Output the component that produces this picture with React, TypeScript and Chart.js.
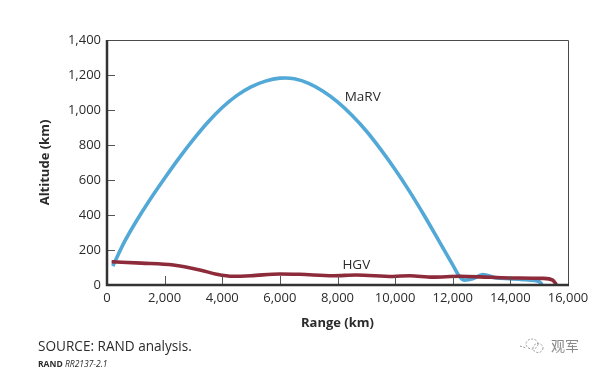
import React, { useEffect, useRef } from "react";
import { Chart, registerables } from "chart.js";

Chart.register(...registerables);

const marvRange = [200, 600, 1000, 1500, 2000, 2500, 3000, 3500, 4000, 4500, 5000, 5500, 6000, 6200, 6500, 7000, 7500, 8000, 8500, 9000, 9500, 10000, 10500, 11000, 11500, 12000, 12230, 12410, 12690, 13040, 13510, 13970, 14500, 15010, 15100];
const marvAltitude = [108, 245, 360, 490, 610, 725, 832, 930, 1014, 1082, 1132, 1165, 1182, 1183, 1178, 1152, 1107, 1046, 970, 880, 775, 660, 535, 400, 258, 115, 50, 28, 35, 60, 40, 36, 30, 18, 2];
const hgvRange = [160, 1200, 2300, 3220, 3800, 4370, 5000, 6000, 6690, 7850, 8650, 9920, 10510, 11300, 12240, 13280, 14080, 15130, 15470, 15600];
const hgvAltitude = [133, 125, 114, 86, 62, 50, 53, 63, 61, 53, 57, 49, 53, 45, 50, 44, 40, 38, 28, 2];
const xTicks = [0, 2000, 4000, 6000, 8000, 10000, 12000, 14000, 16000];
const yTicks = [0, 200, 400, 600, 800, 1000, 1200, 1400];
const notes = [
  { text: "MaRV", x: 8250, y: 1075 },
  { text: "HGV", x: 8170, y: 113 },
];

const FONT = '"Open Sans", "Noto Sans", sans-serif';
const INK = "#2b2b2b";

const frame = {
  id: "frame",
  afterDatasetsDraw(chart: any) {
    const { ctx, chartArea: a, scales } = chart;
    ctx.save();
    ctx.strokeStyle = "#4a4a4a";
    ctx.lineWidth = 1;
    ctx.beginPath();
    ctx.moveTo(a.left, a.top + 0.5);
    ctx.lineTo(a.right + 0.5, a.top + 0.5);
    ctx.lineTo(a.right + 0.5, a.bottom);
    ctx.stroke();

    ctx.strokeStyle = "#555";
    ctx.lineWidth = 1;
    ctx.beginPath();
    xTicks.slice(1, -1).forEach((v) => {
      const px = Math.round(scales.x.getPixelForValue(v)) + 0.5;
      ctx.moveTo(px, a.bottom);
      ctx.lineTo(px, a.bottom - 9);
    });
    yTicks.slice(1, -1).forEach((v) => {
      const py = Math.round(scales.y.getPixelForValue(v)) + 0.5;
      ctx.moveTo(a.left, py);
      ctx.lineTo(a.left + 8, py);
    });
    ctx.stroke();

    ctx.strokeStyle = "#333";
    ctx.lineWidth = 2.5;
    ctx.beginPath();
    ctx.moveTo(a.left, a.top);
    ctx.lineTo(a.left, a.bottom);
    ctx.lineTo(a.right + 1, a.bottom);
    ctx.stroke();

    ctx.fillStyle = INK;
    ctx.font = `13.5px ${FONT}`;
    ctx.textAlign = "left";
    ctx.textBaseline = "middle";
    notes.forEach((n) => {
      ctx.fillText(n.text, scales.x.getPixelForValue(n.x), scales.y.getPixelForValue(n.y));
    });
    ctx.restore();
  },
};

export default function App() {
  const ref = useRef<HTMLCanvasElement | null>(null);

  useEffect(() => {
    const chart = new Chart(ref.current as HTMLCanvasElement, {
      type: "line",
      data: {
        datasets: [
          {
            label: "HGV",
            data: hgvRange.map((x, i) => ({ x, y: hgvAltitude[i] })),
            borderColor: "#8e2b3b",
            borderWidth: 3.6,
            pointRadius: 0,
            cubicInterpolationMode: "monotone",
            order: 1,
          },
          {
            label: "MaRV",
            data: marvRange.map((x, i) => ({ x, y: marvAltitude[i] })),
            borderColor: "#52a8d6",
            borderWidth: 3.6,
            pointRadius: 0,
            cubicInterpolationMode: "monotone",
            order: 2,
          },
        ],
      },
      options: {
        animation: false,
        responsive: false,
        layout: { padding: { top: 40, right: 32, left: 0, bottom: 0 } },
        plugins: { legend: { display: false }, tooltip: { enabled: false } },
        scales: {
          x: {
            type: "linear",
            min: 0,
            max: 16000,
            afterBuildTicks: (s: any) => {
              s.ticks = xTicks.map((value) => ({ value }));
            },
            afterFit: (s: any) => {
              s.height = 87;
            },
            border: { display: false },
            grid: { display: false, drawTicks: false },
            ticks: {
              color: INK,
              padding: 5,
              maxRotation: 0,
              autoSkip: false,
              font: { family: FONT, size: 13 },
              callback: (v: any) => Number(v).toLocaleString("en-US"),
            },
            title: {
              display: true,
              text: "Range (km)",
              color: INK,
              padding: { top: 0, bottom: 41 },
              font: { family: FONT, size: 13, weight: "bold" },
            },
          },
          y: {
            min: 0,
            max: 1400,
            afterBuildTicks: (s: any) => {
              s.ticks = yTicks.map((value) => ({ value }));
            },
            afterFit: (s: any) => {
              s.width = 107;
            },
            border: { display: false },
            grid: { display: false, drawTicks: false },
            ticks: {
              color: INK,
              padding: 6,
              autoSkip: false,
              font: { family: FONT, size: 13 },
              callback: (v: any) => Number(v).toLocaleString("en-US"),
            },
            title: {
              display: true,
              text: "Altitude (km)",
              color: INK,
              padding: { top: 37, bottom: 0 },
              font: { family: FONT, size: 13, weight: "bold" },
            },
          },
        },
      },
      plugins: [frame],
    } as any);
    return () => chart.destroy();
  }, []);

  const abs = (left: number, top: number): React.CSSProperties => ({
    position: "absolute",
    left,
    top,
    fontFamily: FONT,
    color: INK,
    whiteSpace: "nowrap",
    lineHeight: 1,
  });

  return (
    <div style={{ position: "absolute", left: 0, top: 0, width: 600, height: 372, background: "#fff", overflow: "hidden" }}>
      <canvas ref={ref} width={600} height={372} style={{ position: "absolute", left: 0, top: 0, width: 600, height: 372 }} />
      <div style={{ ...abs(38, 339), fontSize: 13.6 }}>SOURCE: RAND analysis.</div>
      <div style={{ ...abs(38, 360), fontSize: 8.5 }}>
        <b>RAND</b> <i>RR2137-2.1</i>
      </div>
      <svg style={{ position: "absolute", left: 519, top: 337 }} width="28" height="18" viewBox="0 0 28 18">
        <g fill="none" stroke="#9a9a9a" strokeWidth="1" strokeDasharray="2 1.5">
          <ellipse cx="13" cy="7" rx="6" ry="5" />
          <ellipse cx="19" cy="11" rx="5" ry="4.5" />
          <path d="M1 9 L7 11" />
        </g>
      </svg>
      <div style={{ ...abs(551, 338), fontSize: 14, color: "#8a8a8a", fontFamily: '"Noto Sans CJK SC", sans-serif' }}>观军</div>
    </div>
  );
}
